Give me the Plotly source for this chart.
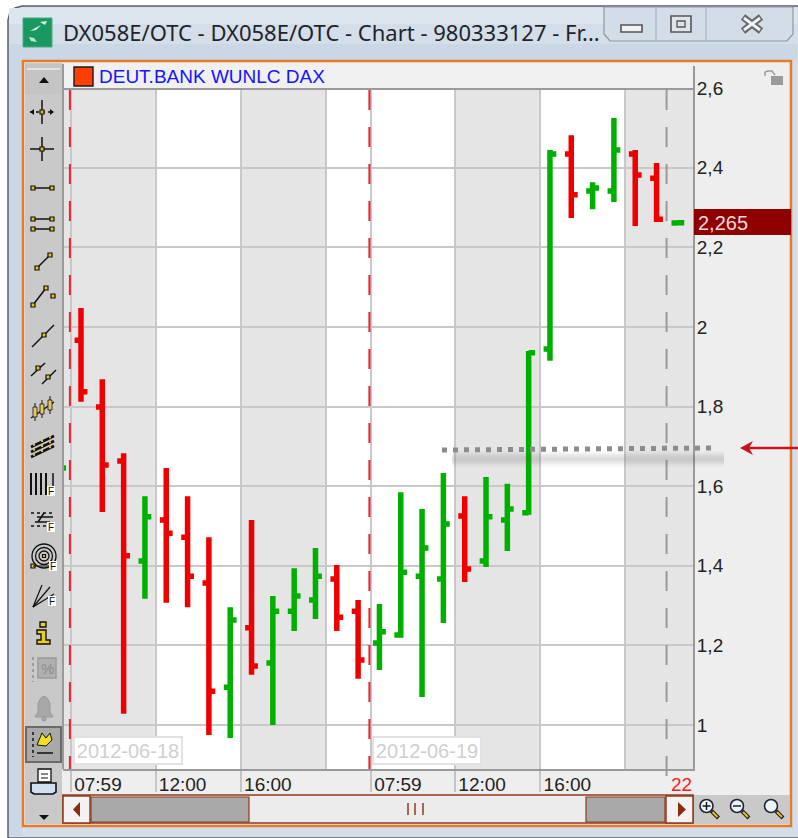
import plotly.graph_objects as go

W, H = 798, 838

# ---- data ----
bar_index = list(range(-1, 29))
bar_open = [1.640, 1.967, 1.799, 1.663, 1.412, 1.515, 1.472, 1.357, 1.095, 1.244, 1.156, 1.286, 1.314, 1.367, 1.286,
            1.206, 1.226, 1.374, 1.367, 1.525, 1.412, 1.515, 1.533, 1.945, 2.435, 2.342, 2.342, 2.435, 2.374, 2.2615]
bar_high = [1.646, 2.048, 1.869, 1.683, 1.575, 1.646, 1.575, 1.472, 1.296, 1.515, 1.324, 1.394, 1.445, 1.402, 1.314,
            1.304, 1.585, 1.543, 1.633, 1.575, 1.623, 1.606, 1.940, 2.445, 2.482, 2.364, 2.525, 2.445, 2.412, 2.262]
bar_low = [1.640, 1.812, 1.535, 1.028, 1.317, 1.307, 1.296, 0.975, 0.967, 1.126, 1.000, 1.236, 1.266, 1.236, 1.116,
           1.138, 1.219, 1.070, 1.256, 1.359, 1.397, 1.437, 1.528, 1.915, 2.274, 2.296, 2.314, 2.254, 2.264, 2.2615]
bar_close = [1.646, 1.837, 1.653, 1.425, 1.523, 1.482, 1.374, 1.085, 1.264, 1.148, 1.286, 1.324, 1.374, 1.271, 1.163,
             1.234, 1.384, 1.445, 1.505, 1.392, 1.523, 1.543, 1.935, 2.435, 2.332, 2.349, 2.445, 2.382, 2.271, 2.262]

y_tick_values = [1, 1.2, 1.4, 1.6, 1.8, 2, 2.2, 2.4, 2.6]
y_tick_labels = ["1", "1,2", "1,4", "1,6", "1,8", "2", "2,2", "2,4", "2,6"]
x_tick_values = [-0.47, 3.5, 7.5, 13.6, 17.55, 21.55]
x_tick_labels = ["07:59", "12:00", "16:00", "07:59", "12:00", "16:00"]
x_minor_grid = [11.5, 25.5]
session_bands = [(-0.85, -0.47), (-0.47, 3.5), (7.5, 11.5), (17.55, 21.55), (25.5, 28.72)]
day_breaks = [-0.52, 13.53]
day_labels = ["2012-06-18", "2012-06-19"]
last_price = "2,265"

TITLE = "DX058E/OTC - DX058E/OTC - Chart - 980333127 - Fr..."
LEGEND = "DEUT.BANK WUNLC DAX"

FONT = "Liberation Sans, Arial, sans-serif"
shapes, annots = [], []


def px(x):
    return x / W


def py(y):
    return 1 - y / H


def rect(x0, y0, x1, y1, fill=None, line=None, w=1, layer="below"):
    shapes.append(dict(type="rect", xref="paper", yref="paper", x0=px(x0), x1=px(x1), y0=py(y0), y1=py(y1),
                       fillcolor=fill or "rgba(0,0,0,0)", line=dict(color=line or "rgba(0,0,0,0)", width=w if line else 0),
                       layer=layer))


def ln(x0, y0, x1, y1, color="#000", w=1.5, dash=None, layer="below"):
    shapes.append(dict(type="line", xref="paper", yref="paper", x0=px(x0), x1=px(x1), y0=py(y0), y1=py(y1),
                       line=dict(color=color, width=w, dash=dash or "solid"), layer=layer))


def circ(cx, cy, r, fill=None, line="#000", w=1.5, layer="below"):
    shapes.append(dict(type="circle", xref="paper", yref="paper", x0=px(cx - r), x1=px(cx + r), y0=py(cy - r), y1=py(cy + r),
                       fillcolor=fill or "rgba(0,0,0,0)", line=dict(color=line, width=w), layer=layer))


def poly(pts, fill=None, line=None, w=1, layer="below", close=True):
    d = "M " + " L ".join(f"{px(a):.5f},{py(b):.5f}" for a, b in pts) + (" Z" if close else "")
    shapes.append(dict(type="path", xref="paper", yref="paper", path=d, fillcolor=fill or "rgba(0,0,0,0)",
                       line=dict(color=line or "rgba(0,0,0,0)", width=w if line else 0), layer=layer))


def label(x, y, text, size=19, color="#222", anchor="left", font=FONT, **kw):
    annots.append(dict(xref="paper", yref="paper", x=px(x), y=py(y), text=text, showarrow=False, xanchor=anchor,
                       yanchor="middle", font=dict(family=font, size=size, color=color), borderpad=0, **kw))


def sq(x, y, s=2.5):
    rect(x - s, y - s, x + s, y + s, "#e8c020", "#111", 1.2)


# ---- window chrome ----
poly([(8, 838), (8, 20), (10, 12), (15, 8), (22, 6), (800, 6), (800, 838)], "#d3dee9", "#5b6068", 1.5)
rect(9, 8, 797, 24, "#dde6ef")
rect(9, 44, 797, 60, "#cad7e4")
rect(9, 60, 22, 836, "#c9d7e6")
# window buttons
poly([(604, 7), (604, 34), (610, 41), (787, 41), (793, 34), (793, 7)], "#d2dde8", "#8f979f", 1.2)
ln(656, 7, 656, 40, "#a8b2bc", 1.2)
ln(706, 7, 706, 40, "#a8b2bc", 1.2)
rect(621, 25, 642, 32, "#f0f3f6", "#555", 1.6)
rect(671, 16, 691, 32, "#dde4ea", "#555", 1.6)
rect(677, 21, 685, 27, "#dde4ea", "#555", 1.3)
ln(743, 17, 761, 31, "#666", 7)
ln(761, 17, 743, 31, "#666", 7)
ln(744, 18, 760, 30, "#eef1f4", 3)
ln(760, 18, 744, 30, "#eef1f4", 3)
# app icon
rect(23, 18, 52, 47, "#19995f", "#4aa985", 1)
poly([(30, 31), (37, 27), (41, 25), (36, 30)], "#dff5ea")
poly([(29, 37), (34, 38), (37, 42), (31, 41)], "#bfe6d2")
poly([(40, 22), (47, 21), (45, 25)], "#dff5ea")
label(62, 32, TITLE, size=22, color="#20242c", font="Noto Sans, sans-serif")

# inner frame
rect(23, 61, 791, 826, "#eeeeee", "#e8782a", 2.5)
rect(25, 63, 62, 824, "#c9c9c9")
rect(694, 795, 790, 824, "#c9c9c9")
rect(63, 64, 693, 769, "#ffffff")

# sessions under the gridlines
for a, b in session_bands:
    shapes.append(dict(type="rect", xref="x", yref="paper", x0=a, x1=b, y0=py(769), y1=py(90),
                       fillcolor="#e5e5e5", line=dict(width=0), layer="below"))

# scrollbar
BR = "#8f3b1c"
rect(63, 795, 693, 823, "#ececec", BR, 1.6)
rect(63, 796, 90, 823, "#f2f2f2", BR, 1.5)
rect(91, 797, 249, 822, "#a9a9a9", BR, 1.2)
rect(586, 797, 665, 822, "#a9a9a9", BR, 1.2)
rect(666, 796, 693, 823, "#f2f2f2", BR, 1.5)
poly([(80, 802), (80, 817), (73, 809.5)], "#8a2c0e")
poly([(678, 802), (678, 817), (686, 809.5)], "#8a2c0e")
for gx in (408, 415, 423):
    ln(gx, 803, gx, 815, BR, 1.5)

# zoom icons
for cx, sign in ((706.5, "+"), (737, "-"), (771, "")):
    circ(cx, 806, 6.5, "#eaf4fb", "#223", 1.6)
    ln(cx + 5, 811, cx + 12, 818, "#222", 4)
    ln(cx + 6, 812, cx + 11, 817, "#e5c020", 2)
    if sign:
        ln(cx - 4, 806, cx + 4, 806, "#111", 1.4)
    if sign == "+":
        ln(cx, 802, cx, 810, "#111", 1.4)

# lock icon
rect(771, 76, 783, 85, "#9a9a9a")
poly([(765, 76), (765, 72), (768, 71), (772, 71), (775, 75)], None, "#9a9a9a", 1.4, close=False)

# ---- toolbar icons ----
BK = "#111"
rect(25, 64, 62, 94, "#c4c4c4")
ln(27, 69, 60, 69, "#eeeeee", 1.5)
poly([(39, 83), (49, 83), (44, 77)], BK)
# cross with arrows
ln(42, 100, 42, 124, BK)
ln(30, 112, 54, 112, BK, 1.5, "dot")
poly([(30, 112), (34, 109), (34, 115)], BK)
poly([(54, 112), (50, 109), (50, 115)], BK)
sq(42, 112, 2)
ln(42, 137, 42, 161, BK)
ln(30, 149, 54, 149, BK)
sq(42, 149, 2)
ln(33, 188, 52, 188, BK)
sq(33, 188, 2)
sq(52, 188, 2)
for yy in (219, 229):
    ln(33, yy, 52, yy, BK)
    sq(33, yy, 2)
    sq(52, yy, 2)
ln(37, 268, 50, 255, BK)
sq(37, 268, 2)
sq(50, 255, 2)
ln(33, 305, 46, 288, BK)
sq(33, 305, 2)
sq(46, 288, 2)
sq(53, 296, 2)
ln(32, 347, 54, 325, BK)
sq(44, 335, 2)
ln(31, 376, 45, 363, BK)
sq(38, 368, 2)
ln(42, 384, 56, 370, BK)
sq(48, 377, 2)
# bars
ln(31, 418, 54, 402, BK)
for bx, by in ((35, 412), (42, 409), (50, 405)):
    ln(bx, by - 9, bx, by + 9, BK, 1)
    rect(bx - 2, by - 5, bx + 2, by + 5, "#e8c860", BK, 0.8)
# grid of bars
for off in (-5, 0, 5):
    ln(31, 452 + off, 54, 441 + off, BK, 2.5)
    for t in (34, 42, 50):
        rect(t - 1, 446 + off + (42 - t) / 2.2 - 1, t + 1, 446 + off + (42 - t) / 2.2 + 1, "#e8c020")


def fbadge(x, y):
    rect(x - 4, y - 5, x + 4, y + 5, "#ffffff")
    label(x, y, "F", size=10, color="#111", anchor="center", font="Liberation Sans")


for vx in (31, 36, 41, 46):
    ln(vx, 473, vx, 495, BK, 2)
ln(53, 473, 53, 487, BK, 1.5)
fbadge(51, 491)
for hy in (513, 526):
    ln(31, hy, 54, hy, BK, 1.5, "dot")
ln(37, 517, 53, 517, BK, 1.5)
ln(35, 522, 50, 522, BK, 1.5)
ln(44, 513, 38, 522, BK, 1.5)
fbadge(51, 527)
circ(44, 556, 12, None, BK, 1.3)
circ(44, 556, 8.5, None, BK, 1.3)
circ(44, 556, 5, None, BK, 1.3)
sq(44, 556, 1.5)
sq(33, 566, 2)
ln(33, 566, 50, 566, BK, 1)
fbadge(53, 566)
for ex, ey in ((42, 585), (50, 587), (54, 594)):
    ln(33, 607, ex, ey, BK, 1.2)
fbadge(52, 601)
# info
rect(40, 622, 46, 627, "#e8d020", BK, 1.4)
poly([(37, 630), (46, 630), (46, 640), (50, 640), (50, 644), (37, 644), (37, 640), (41, 640), (41, 634), (37, 634)],
     "#e8d020", BK, 1.4)
# disabled icons
ln(33, 657, 33, 682, "#9c9c9c", 2, "dot")
rect(38, 658, 56, 678, "#b0b0b0", "#9a9a9a", 1.5)
label(47, 668, "%", size=15, color="#8c8c8c", anchor="center")
poly([(35, 717), (38, 712), (38, 703), (41, 698), (44, 696), (47, 698), (50, 703), (50, 712), (53, 717)], "#a8a8a8", "#999", 1)
circ(44, 719, 2, "#a8a8a8", "#999", 1)
# pressed alert-line button
rect(26, 727, 61, 762, "#a9a9a9", "#6a6a6a", 2)
ln(33, 732, 33, 757, BK, 1.5, "dot")
ln(37, 753, 53, 753, BK, 1.5)
poly([(37, 745), (42, 733), (46, 738), (50, 733), (52, 740), (46, 746)], "#f0e020", BK, 1)
# printer
rect(38, 769, 51, 782, "#ffffff", BK, 1.3)
ln(41, 774, 48, 774, BK, 1)
ln(41, 778, 48, 778, BK, 1)
poly([(31, 783), (56, 783), (56, 792), (53, 794), (34, 794), (31, 792)], "#d0e0f0", BK, 1.6)
poly([(39, 815), (49, 815), (44, 820)], BK)

# ---- plot decorations ----
rect(63, 64, 693, 89, "#f0f0f0", layer="above")
ln(63, 89, 693, 89, "#9a9a9a", 2, layer="above")
ln(63, 64, 63, 769, "#9a9a9a", 2, layer="above")
rect(74, 67, 93, 86, "#ff4000", "#1a1a1a", 1.4, layer="above")
label(98, 77, LEGEND, size=19, color="#1414ff")

for xb in day_breaks:
    shapes.append(dict(type="line", xref="x", yref="paper", x0=xb, x1=xb, y0=py(90), y1=py(769),
                       line=dict(color="#ee2030", width=2, dash="20px,17px"), layer="above"))
shapes.append(dict(type="line", xref="x", yref="paper", x0=27.47, x1=27.47, y0=py(90), y1=py(790),
                   line=dict(color="#9a9a9a", width=2, dash="20px,17px"), layer="above"))

for xl, txt in zip((128, 427), day_labels):
    annots.append(dict(xref="paper", yref="paper", x=px(xl), y=py(750.5), text=txt, showarrow=False, width=104, height=23,
                       bgcolor="#ffffff", bordercolor="#e2e2e2", borderwidth=2, xanchor="center", yanchor="middle",
                       font=dict(family=FONT, size=20, color="#cfcfcf")))

label(670, 784, "22", size=19, color="#ff1a1a")

# price tag
rect(694, 209, 791, 235, "#8f0000", layer="above")
label(697, 223, last_price, size=20, color="#f4dcdc")

# target line with shadow
for wd, op in ((16, 0.03), (13, 0.04), (10, 0.05), (7, 0.05), (4, 0.05)):
    ln(452, 459, 724, 459, f"rgba(90,90,90,{op})", wd, layer="above")
ln(442, 450, 712, 448, "#8c8c8c", 5, "5px,6px", layer="above")
ln(744, 448, 798, 448, "#c8141e", 2.5, layer="above")
poly([(740, 448), (753, 441), (749, 448), (753, 455)], "#c8141e", layer="above")

# ---- figure ----
fig = go.Figure(go.Ohlc(
    x=bar_index, open=bar_open, high=bar_high, low=bar_low, close=bar_close, tickwidth=0.3,
    increasing=dict(line=dict(color="#00b000", width=5.5)),
    decreasing=dict(line=dict(color="#ee0000", width=5.5)),
    hoverinfo="skip",
))

fig.update_layout(
    width=W, height=H, margin=dict(l=0, r=0, t=0, b=0), autosize=False, showlegend=False,
    paper_bgcolor="#ffffff", plot_bgcolor="rgba(0,0,0,0)", shapes=shapes, annotations=annots,
    font=dict(family=FONT, color="#222", size=19),
    xaxis=dict(domain=[px(63), px(693)], range=[-0.844, 28.71], rangeslider=dict(visible=False),
               tickmode="array", tickvals=x_tick_values, ticktext=x_tick_labels,
               ticks="outside", ticklen=21, tickcolor="#c4c4c4", tickwidth=2, ticklabelshift=27, ticklabelstandoff=-24,
               showgrid=True, gridcolor="#c8c8c8", gridwidth=2, zeroline=False,
               showline=True, linecolor="#9a9a9a", linewidth=2,
               minor=dict(tickmode="array", tickvals=x_minor_grid, showgrid=True, gridcolor="#c8c8c8", gridwidth=2, ticks=""),
               tickfont=dict(size=19, color="#222")),
    yaxis=dict(domain=[py(769), py(66)], range=[0.8894, 2.6558], side="right",
               tickmode="array", tickvals=y_tick_values, ticktext=y_tick_labels,
               ticks="", showgrid=True, gridcolor="#c8c8c8", gridwidth=2, zeroline=False,
               showline=True, linecolor="#9a9a9a", linewidth=2, ticklabelstandoff=-2,
               tickfont=dict(size=19, color="#222")),
)

fig.write_html("out.html", config=dict(displayModeBar=False),
               post_script="document.body.style.margin='0';document.body.style.overflow='hidden';")
